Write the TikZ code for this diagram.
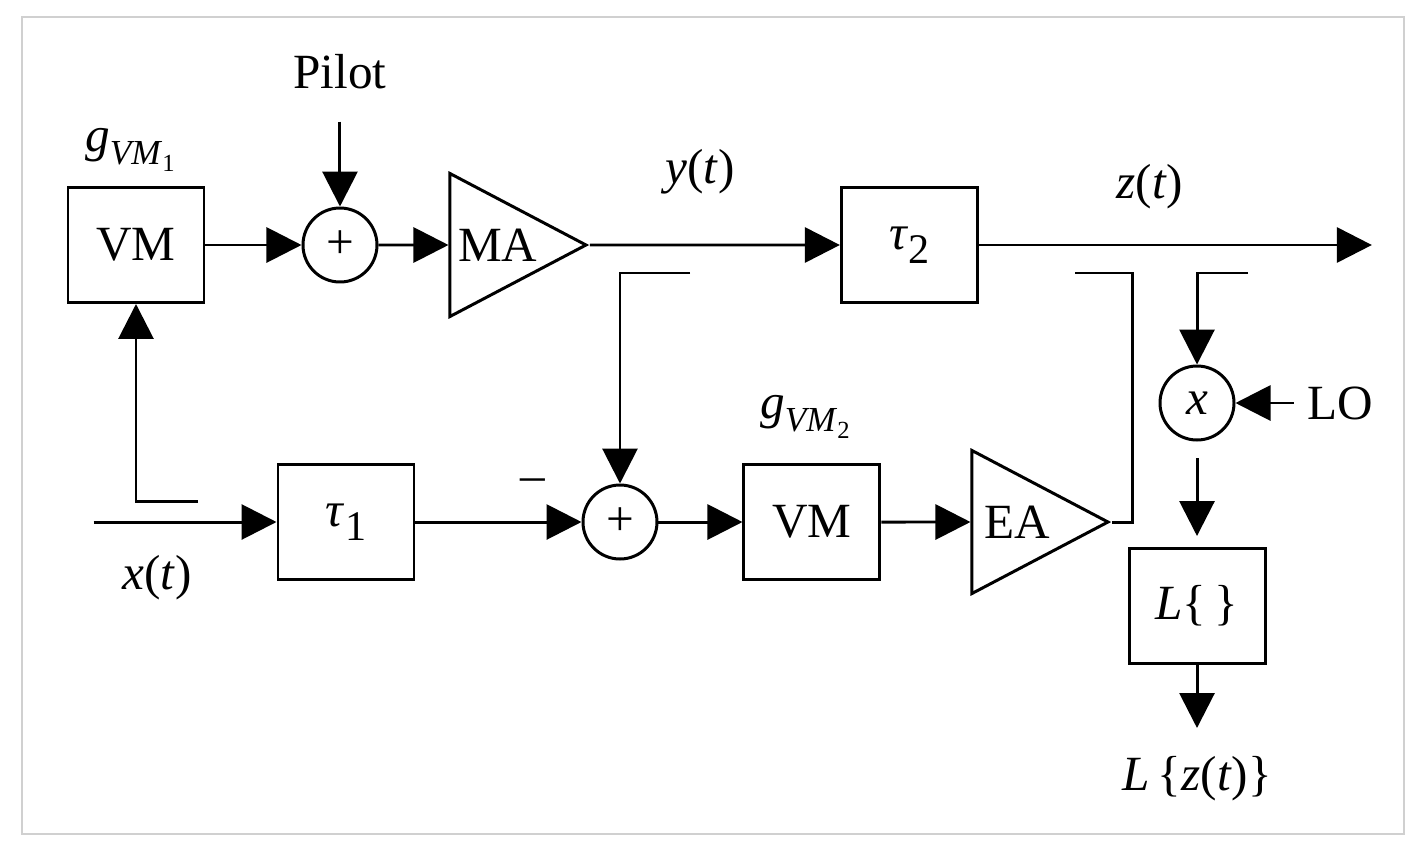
\documentclass[tikz,border=0pt]{standalone}
\usepackage{fontspec}
\setmainfont{Liberation Serif}
\usetikzlibrary{positioning,arrows.meta,shapes.geometric}
\definecolor{framegray}{RGB}{208,208,208}
\newcommand{\gvm}[1]{\textit{g}\raisebox{-0.55ex}{\fontsize{10}{11}\selectfont\textit{VM}\raisebox{-0.45ex}{\fontsize{7}{8}\selectfont #1}}}
\newcommand{\tdelay}[1]{\textit{τ}\raisebox{-0.6ex}{\fontsize{12}{13}\selectfont #1}}

\begin{document}
\begin{tikzpicture}[x=1mm, y=1mm, font=\fontsize{14}{16}\selectfont,
  blk/.style={draw, line width=0.85pt, minimum width=13.6mm, minimum height=11.5mm, inner sep=0pt},
  sumc/.style={draw, circle, line width=0.85pt, minimum size=7.4mm, inner sep=0pt},
  amp/.style={draw, isosceles triangle, isosceles triangle stretches, line width=0.85pt,
              minimum width=14.3mm, minimum height=13.6mm, inner sep=0pt},
  lbl/.style={inner sep=0pt},
  arr/.style={-{Triangle[length=3.5mm, width=3.5mm]}, line width=0.85pt},
  wire/.style={line width=0.85pt}]

\useasboundingbox (0,0) rectangle (141.2,-84.6);
\draw[framegray, line width=0.6pt] (2.2,-1.7) rectangle (140.4,-83.4);

\node[blk] (vm1) at (13.6,-24.5) {VM};
\node[sumc, right=9.6mm of vm1] (sum1) {+};
\node[amp, right=7.0mm of sum1] (ma) {MA};
\node[blk, right=25.0mm of ma] (tau2) {\tdelay{2}};
\coordinate[right=39.3mm of tau2] (zout);
\node[lbl, above=8.5mm of sum1, inner ysep=3.2mm] (pilot) {Pilot};
\node[lbl] (gvm1) at (13,-15) {\gvm{1}};
\node[lbl] (yt) at (70,-17.2) {\textit{y}(\textit{t})};
\node[lbl] (zt) at (115,-18.7) {\textit{z}(\textit{t})};

\node[blk] (tau1) at (34.6,-52.2) {\tdelay{1}};
\coordinate[left=18.3mm of tau1] (xin);
\node[sumc, right=16.6mm of tau1] (sum2) {+};
\node[blk, right=8.4mm of sum2] (vm2) {VM};
\node[amp, right=8.9mm of vm2] (ea) {EA};
\node[lbl] (gvm2) at (80.5,-41.7) {\gvm{2}};
\node[lbl] (minus) at (53.3,-48.5) {--};
\node[lbl] (xt) at (15.7,-57.8) {\textit{x}(\textit{t})};

\node[sumc] (mix) at (119.7,-40.3) {\textit{x}};
\node[lbl, right=5.8mm of mix, inner xsep=1.3mm] (lo) {LO};
\node[blk] (lbox) at (119.7,-60.6) {\textit{L}\{\,\}};
\node[lbl, below=6.3mm of lbox, inner ysep=2.8mm] (lz) {\textit{L}\,\{\textit{z}(\textit{t})\}};

\coordinate (fb) at (19.8,-50.1);
\coordinate (tapa) at (69,-27.3);
\coordinate (tapb) at (107.5,-27.3);
\coordinate (tapc) at (124.8,-27.3);

\draw[arr] (vm1) -- (sum1);
\draw[arr] (pilot) -- (sum1);
\draw[arr] (sum1) -- (ma);
\draw[arr] (ma) -- (tau2);
\draw[arr] (tau2) -- (zout);
\draw[arr] (xin) -- (tau1);
\draw[arr] (fb) -| (vm1);
\draw[arr] (tau1) -- (sum2);
\draw[arr] (tapa) -| (sum2);
\draw[arr] (sum2) -- (vm2);
\draw[arr] (vm2) -- (ea);
\draw[wire] (tapb) -- ++(5.7,0) |- (ea);
\draw[arr] (tapc) -| (mix);
\draw[arr] (lo) -- (mix);
\draw[arr, shorten <=1.7mm, shorten >=1.1mm] (mix) -- (lbox);
\draw[arr] (lbox) -- (lz);
\end{tikzpicture}
\end{document}
